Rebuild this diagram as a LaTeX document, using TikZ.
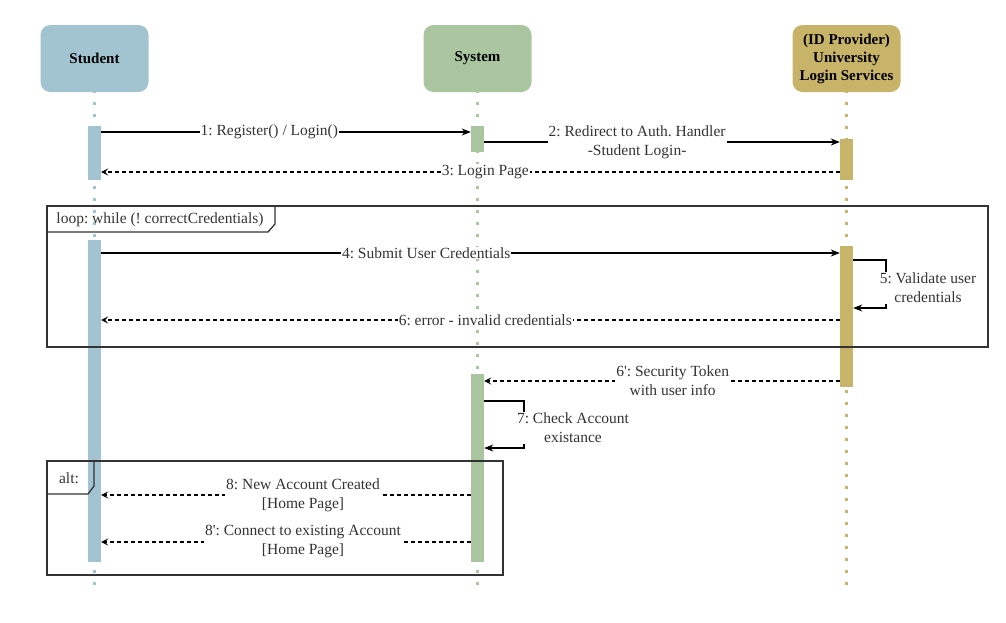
\documentclass[tikz,border=0pt]{standalone}
\usepackage{fontspec}
\setmainfont{Liberation Serif}
\usetikzlibrary{arrows.meta,calc}
\definecolor{stuC}{HTML}{A2C4D1}
\definecolor{sysC}{HTML}{A9C6A1}
\definecolor{idpC}{HTML}{C8B468}
\definecolor{frameC}{HTML}{333333}
\definecolor{txtC}{HTML}{333333}
\frenchspacing
\begin{document}
\begin{tikzpicture}[x=1pt,y=-1pt,
  actor/.style={rectangle,rounded corners=10pt,minimum width=108pt,minimum height=67pt,inner sep=2pt,
    font=\fontsize{15}{18}\selectfont\bfseries,align=center,text=black},
  life/.style={line width=3pt,dash pattern=on 3pt off 9pt,dash phase=-10pt},
  bar/.style={rectangle,inner sep=0pt,minimum width=13pt},
  msg/.style={line width=1.2pt,-{Stealth[length=9pt,width=7pt]}},
  ret/.style={line width=1.2pt,dash pattern=on 4pt off 3pt,-{Stealth[length=7pt,width=7pt,inset=3pt]}},
  lbl/.style={fill=white,inner sep=1pt,font=\fontsize{15.5}{19}\selectfont,align=center,text=txtC},
  frame/.style={line width=1.3pt,draw=frameC},
  flbl/.style={font=\fontsize{15.5}{18}\selectfont,text=txtC}]
\useasboundingbox (0,0) rectangle (1006,622);
% actors
\node[actor,fill=stuC] (stu) at (94.5,58.5) {Student};
\node[actor,fill=sysC] (sys) at (477.5,58.5) {System};
\node[actor,fill=idpC] (idp) at (846.5,58.5) {(ID Provider)\\University\\Login Services};
% lifelines
\coordinate (stuEnd) at (94.5,592);
\coordinate (sysEnd) at (477.5,592);
\coordinate (idpEnd) at (846.5,592);
\draw[life,stuC] (stu.south) -- (stuEnd);
\draw[life,sysC] (sys.south) -- (sysEnd);
\draw[life,idpC] (idp.south) -- (idpEnd);
% activation bars
\node[bar,fill=stuC,minimum height=54pt] (sb1) at (94.5,153) {};
\node[bar,fill=stuC,minimum height=322pt] (sb2) at (94.5,401) {};
\node[bar,fill=sysC,minimum height=26pt] (yb1) at (477.5,139) {};
\node[bar,fill=sysC,minimum height=188pt] (yb2) at (477.5,468) {};
\node[bar,fill=idpC,minimum height=41pt] (ib1) at (846.5,159.5) {};
\node[bar,fill=idpC,minimum height=141pt] (ib2) at (846.5,316.5) {};
% frames
\draw[frame] (47,206) rectangle (988,347);
\draw[frame] (47,232) -- (268,232) -- (275,224) -- (275,206);
\node[flbl] (loopl) at (160,219.5) {loop: while (! correctCredentials)};
\draw[frame] (47,461) rectangle (503,575);
\draw[frame] (47,494) -- (88,494) -- (94,486) -- (94,461);
\node[flbl] (altl) at (69,478) {alt:};
% messages
\draw[msg] (sb1.east |- 0,132) -- node[lbl,pos=0.455]{1: Register() / Login()} (yb1.west |- 0,132);
\draw[msg] (yb1.east |- 0,142) -- node[lbl,pos=0.43]{2: Redirect to Auth. Handler\\-Student Login-} (ib1.west |- 0,142);
\draw[ret] (ib1.west |- 0,172) -- node[lbl,pos=0.48]{3: Login Page} (sb1.east |- 0,172);
\draw[msg] (sb2.east |- 0,253) -- node[lbl,pos=0.44]{4: Submit User Credentials} (ib2.west |- 0,253);
\coordinate (v1) at (886,260);
\coordinate (v2) at (886,308);
\draw[msg] (ib2.east |- v1) -- (v1) -- (v2) -- (ib2.east |- v2);
\node[lbl] (l5) at (928,288) {5: Validate user\\credentials};
\draw[ret] (ib2.west |- 0,320) -- node[lbl,pos=0.48]{6: error - invalid credentials} (sb2.east |- 0,320);
\draw[ret] (ib2.west |- 0,381) -- node[lbl,pos=0.47]{6\textquotesingle: Security Token\\with user info} (yb2.east |- 0,381);
\coordinate (c1) at (524,401);
\coordinate (c2) at (524,448);
\draw[msg] (yb2.east |- c1) -- (c1) -- (c2) -- (yb2.east |- c2);
\node[lbl] (l7) at (573,428) {7: Check Account\\existance};
\draw[ret] (yb2.west |- 0,495) -- node[lbl,pos=0.454]{8: New Account Created\\{}[Home Page]} (sb2.east |- 0,495);
\draw[ret] (yb2.west |- 0,542) -- node[lbl,pos=0.454]{8\textquotesingle: Connect to existing Account\\{}[Home Page]} (sb2.east |- 0,542);
\end{tikzpicture}
\end{document}
